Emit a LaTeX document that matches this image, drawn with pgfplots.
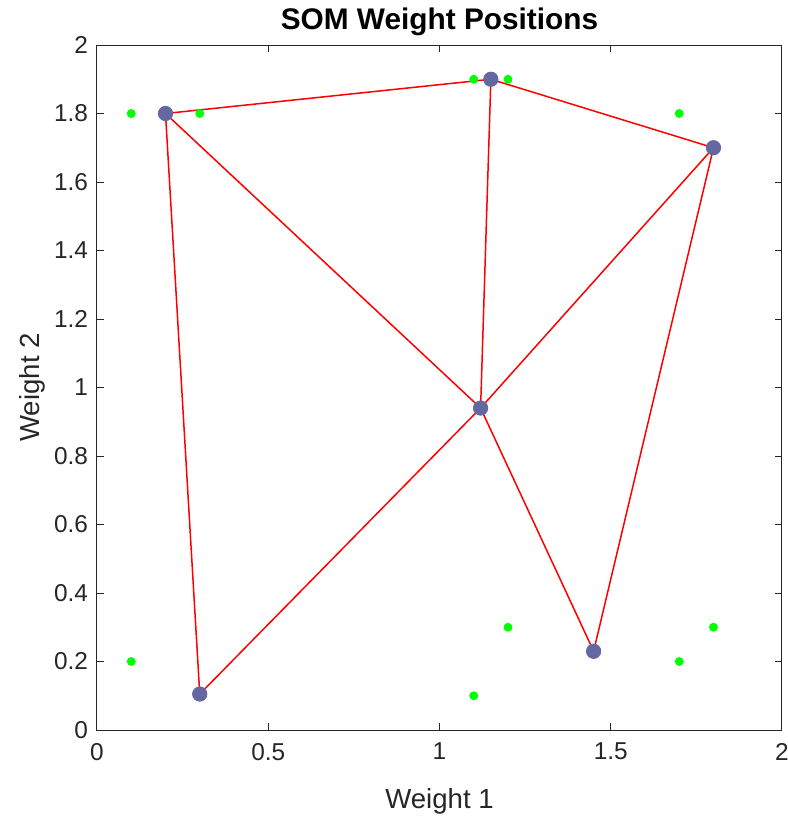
\documentclass[border=0pt]{standalone}
\usepackage{fontspec}
\setmainfont{Liberation Sans}
\usepackage{pgfplots}
\pgfplotsset{compat=1.18}
\definecolor{axgray}{RGB}{38,38,38}
\definecolor{neuron}{RGB}{100,104,160}
\begin{document}
\begin{tikzpicture}
\useasboundingbox (-48.5pt,-43pt) rectangle (345.5pt,365pt);
\begin{axis}[
  at={(0,0)}, anchor=south west,
  scale only axis, width=342.5pt, height=342.5pt,
  xmin=0, xmax=2, ymin=0, ymax=2,
  xtick={0,0.5,1,1.5,2}, ytick={0,0.2,...,2.01},
  yticklabel style={/pgf/number format/fixed},
  /pgf/number format/assume math mode=true,
  tick align=inside, major tick length=3.5pt,
  axis line style={axgray, line width=0.5pt},
  every tick/.style={axgray, line width=0.5pt},
  ticklabel style={font=\fontsize{12.2}{14}\selectfont, text=axgray},
  xticklabel style={yshift=-3pt},
  yticklabel style={xshift=-1pt},
  label style={font=\fontsize{13.8}{16}\selectfont, text=axgray},
  xlabel={Weight 1}, ylabel={Weight 2},
  xlabel style={yshift=-7pt},
  ylabel style={yshift=-2.5pt},
  title={\textbf{SOM Weight Positions}},
  title style={font=\fontsize{14.9}{17}\selectfont, yshift=-5pt},
  clip=false,
  somline/.style={red, solid, line width=0.75pt, no marks, forget plot},
]
\addplot[only marks, mark=*, mark size=2pt, color=green, mark options={draw=green, fill=green}] coordinates {
  (0.1,1.8) (0.3,1.8) (1.1,1.9) (1.2,1.9) (1.7,1.8)
  (0.1,0.2) (1.2,0.3) (1.1,0.1) (1.7,0.2) (1.8,0.3)
};
\addplot[somline] coordinates {(0.2,1.8) (1.15,1.9)};
\addplot[somline] coordinates {(1.15,1.9) (1.8,1.7)};
\addplot[somline] coordinates {(0.2,1.8) (1.12,0.94)};
\addplot[somline] coordinates {(1.15,1.9) (1.12,0.94)};
\addplot[somline] coordinates {(1.8,1.7) (1.12,0.94)};
\addplot[somline] coordinates {(0.2,1.8) (0.3,0.105)};
\addplot[somline] coordinates {(0.3,0.105) (1.12,0.94)};
\addplot[somline] coordinates {(1.12,0.94) (1.45,0.23)};
\addplot[somline] coordinates {(1.45,0.23) (1.8,1.7)};
\addplot[only marks, mark=*, mark size=3.6pt, color=neuron, mark options={draw=neuron, fill=neuron}] coordinates {
  (0.2,1.8) (1.15,1.9) (1.8,1.7) (1.12,0.94) (0.3,0.105) (1.45,0.23)
};
\end{axis}
\end{tikzpicture}
\end{document}
